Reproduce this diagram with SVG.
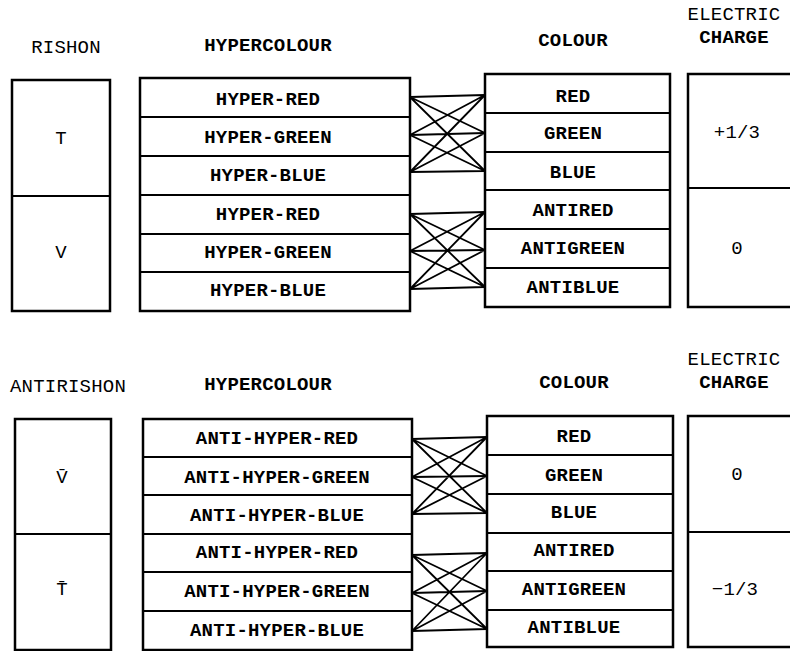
<svg xmlns="http://www.w3.org/2000/svg" width="790" height="651" viewBox="0 0 790 651">
<style>
  .box { fill: none; stroke: #000; stroke-width: 2.5; }
  .ln { stroke: #000; stroke-width: 2.2; fill: none; }
  .x { stroke: #000; stroke-width: 1.8; fill: none; }
  text { font-family: "Liberation Mono", "DejaVu Sans Mono", monospace; font-size: 19px; fill: #000; text-anchor: middle; dominant-baseline: central; letter-spacing: 0.2px; }
  .b { font-weight: bold; }
  .r { font-weight: normal; }
</style>
<rect width="790" height="651" fill="#fff"/>

<!-- TOP SECTION -->
<g id="headers-top">
  <text class="r" x="66" y="48">RISHON</text>
  <text class="b" x="268" y="46">HYPERCOLOUR</text>
  <text class="b" x="573" y="41">COLOUR</text>
  <text class="r" x="734" y="15">ELECTRIC</text>
  <text class="b" x="734" y="38">CHARGE</text>
</g>

<g id="rishon-top">
  <rect class="box" x="12" y="80" width="98" height="231"/>
  <line class="ln" x1="12" y1="196" x2="110" y2="196"/>
  <text class="r" x="61" y="139">T</text>
  <text class="r" x="61" y="253">V</text>
</g>

<g id="hyper-top">
  <rect class="box" x="140" y="78" width="270" height="233"/>
  <line class="ln" x1="140" y1="117" x2="410" y2="117"/>
  <line class="ln" x1="140" y1="156" x2="410" y2="156"/>
  <line class="ln" x1="140" y1="195" x2="410" y2="195"/>
  <line class="ln" x1="140" y1="234" x2="410" y2="234"/>
  <line class="ln" x1="140" y1="272" x2="410" y2="272"/>
  <text class="b" x="268" y="100">HYPER-RED</text>
  <text class="b" x="268" y="138">HYPER-GREEN</text>
  <text class="b" x="268" y="176">HYPER-BLUE</text>
  <text class="b" x="268" y="215">HYPER-RED</text>
  <text class="b" x="268" y="253">HYPER-GREEN</text>
  <text class="b" x="268" y="291">HYPER-BLUE</text>
</g>

<g id="colour-top">
  <rect class="box" x="485" y="74" width="185" height="233"/>
  <line class="ln" x1="485" y1="113" x2="670" y2="113"/>
  <line class="ln" x1="485" y1="152" x2="670" y2="152"/>
  <line class="ln" x1="485" y1="190" x2="670" y2="190"/>
  <line class="ln" x1="485" y1="229" x2="670" y2="229"/>
  <line class="ln" x1="485" y1="268" x2="670" y2="268"/>
  <text class="b" x="573" y="97">RED</text>
  <text class="b" x="573" y="134">GREEN</text>
  <text class="b" x="573" y="173">BLUE</text>
  <text class="b" x="573" y="211">ANTIRED</text>
  <text class="b" x="573" y="249">ANTIGREEN</text>
  <text class="b" x="573" y="288">ANTIBLUE</text>
</g>

<g id="charge-top">
  <path class="box" d="M795,74 H688 V307 H795"/>
  <line class="ln" x1="688" y1="188" x2="795" y2="188"/>
  <text class="r" x="737" y="133">+1/3</text>
  <text class="r" x="737" y="249">0</text>
</g>

<!-- BOTTOM SECTION -->
<g id="headers-bottom">
  <text class="r" x="68" y="387">ANTIRISHON</text>
  <text class="b" x="268" y="385">HYPERCOLOUR</text>
  <text class="b" x="574" y="383">COLOUR</text>
  <text class="r" x="734" y="360">ELECTRIC</text>
  <text class="b" x="734" y="383">CHARGE</text>
</g>

<g id="antirishon-bottom">
  <rect class="box" x="15" y="419" width="96" height="231"/>
  <line class="ln" x1="15" y1="534" x2="111" y2="534"/>
  <text class="r" x="62" y="478">V&#x0304;</text>
  <text class="r" x="62" y="590">T&#x0304;</text>
</g>

<g id="hyper-bottom">
  <rect class="box" x="143" y="419" width="269" height="231"/>
  <line class="ln" x1="143" y1="457" x2="412" y2="457"/>
  <line class="ln" x1="143" y1="495" x2="412" y2="495"/>
  <line class="ln" x1="143" y1="534" x2="412" y2="534"/>
  <line class="ln" x1="143" y1="572" x2="412" y2="572"/>
  <line class="ln" x1="143" y1="611" x2="412" y2="611"/>
  <text class="b" x="277" y="439">ANTI-HYPER-RED</text>
  <text class="b" x="277" y="478">ANTI-HYPER-GREEN</text>
  <text class="b" x="277" y="516">ANTI-HYPER-BLUE</text>
  <text class="b" x="277" y="553">ANTI-HYPER-RED</text>
  <text class="b" x="277" y="592">ANTI-HYPER-GREEN</text>
  <text class="b" x="277" y="631">ANTI-HYPER-BLUE</text>
</g>

<g id="colour-bottom">
  <rect class="box" x="487" y="416" width="186" height="231"/>
  <line class="ln" x1="487" y1="455" x2="673" y2="455"/>
  <line class="ln" x1="487" y1="494" x2="673" y2="494"/>
  <line class="ln" x1="487" y1="533" x2="673" y2="533"/>
  <line class="ln" x1="487" y1="571" x2="673" y2="571"/>
  <line class="ln" x1="487" y1="610" x2="673" y2="610"/>
  <text class="b" x="574" y="437">RED</text>
  <text class="b" x="574" y="476">GREEN</text>
  <text class="b" x="574" y="513">BLUE</text>
  <text class="b" x="574" y="551">ANTIRED</text>
  <text class="b" x="574" y="590">ANTIGREEN</text>
  <text class="b" x="574" y="628">ANTIBLUE</text>
</g>

<g id="charge-bottom">
  <path class="box" d="M795,416 H688 V647 H795"/>
  <line class="ln" x1="688" y1="532" x2="795" y2="532"/>
  <text class="r" x="737" y="475">0</text>
  <text class="r" x="735" y="590">&#x2212;1/3</text>
</g>

<!-- CONNECTORS -->
<g id="connectors">
  <path class="x" d="M410,97 L485,95 M410,97 L485,133 M410,97 L485,171 M410,135 L485,95 M410,135 L485,133 M410,135 L485,171 M410,172 L485,95 M410,172 L485,133 M410,172 L485,171"/>
  <path class="x" d="M410,214 L485,212 M410,214 L485,250 M410,214 L485,287 M410,251 L485,212 M410,251 L485,250 M410,251 L485,287 M410,289 L485,212 M410,289 L485,250 M410,289 L485,287"/>
  <path class="x" d="M412,439 L487,437 M412,439 L487,476 M412,439 L487,513 M412,477 L487,437 M412,477 L487,476 M412,477 L487,513 M412,514 L487,437 M412,514 L487,476 M412,514 L487,513"/>
  <path class="x" d="M412,555 L487,553 M412,555 L487,591 M412,555 L487,629 M412,593 L487,553 M412,593 L487,591 M412,593 L487,629 M412,631 L487,553 M412,631 L487,591 M412,631 L487,629"/>
</g>
</svg>
